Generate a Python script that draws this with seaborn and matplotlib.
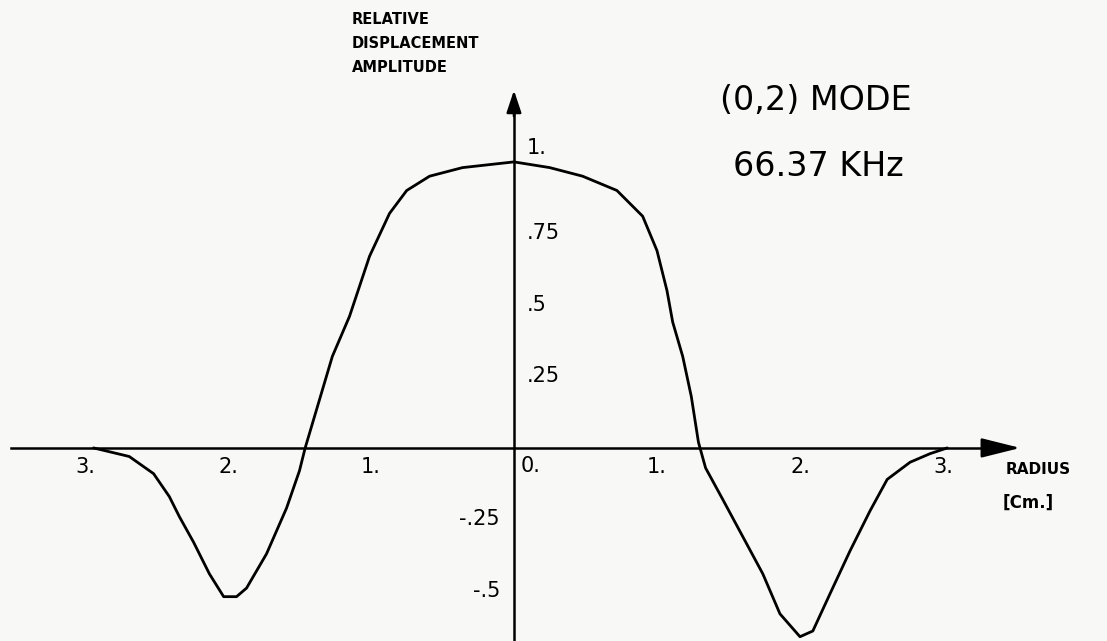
import matplotlib
matplotlib.use("Agg")
import matplotlib.pyplot as plt
import seaborn as sns
import pandas as pd

"""(0,2) mode of the plate: relative displacement amplitude versus radius"""
# values (left half = negative side of the axis)

radius = [-2.94, -2.69, -2.52, -2.41, -2.34, -2.24, -2.13, -2.03, -1.94, -1.87,
          -1.73, -1.59, -1.50, -1.46, -1.27, -1.15, -1.01, -0.87, -0.75, -0.59,
          -0.36, 0.0, 0.25, 0.48, 0.72, 0.90, 1.00, 1.07, 1.11, 1.18,
          1.24, 1.29, 1.34, 1.46, 1.60, 1.74, 1.86, 2.00, 2.09, 2.21,
          2.35, 2.49, 2.61, 2.77, 2.91, 3.03]
amplitude = [0.0, -0.03, -0.09, -0.17, -0.24, -0.33, -0.44, -0.52, -0.52, -0.49,
             -0.37, -0.21, -0.08, 0.0, 0.32, 0.46, 0.67, 0.82, 0.90, 0.95,
             0.98, 1.0, 0.98, 0.95, 0.90, 0.81, 0.69, 0.55, 0.44, 0.32,
             0.18, 0.02, -0.07, -0.18, -0.31, -0.44, -0.58, -0.66, -0.64, -0.51,
             -0.36, -0.22, -0.11, -0.05, -0.02, 0.0]

x_ticks = [-3, -2, -1, 1, 2, 3]
x_tick_labels = ["3.", "2.", "1.", "1.", "2.", "3."]
y_ticks_up = [1.0, 0.75, 0.5, 0.25]
y_labels_up = ["1.", ".75", ".5", ".25"]
y_ticks_down = [-0.25, -0.5]
y_labels_down = ["-.25", "-.5"]

paper = "#f8f8f6"

sns.set_style("white")
plt.rcParams["font.family"] = ["DejaVu Sans"]
plt.rcParams["text.color"] = "black"
plt.rcParams["xtick.color"] = "black"
plt.rcParams["ytick.color"] = "black"

fig = plt.figure(figsize=(11.07, 6.41), dpi=100, facecolor=paper)
ax = fig.add_axes([0, 0, 1, 1])
ax.set_facecolor(paper)

df = pd.DataFrame({"radius": radius, "amplitude": amplitude})
sns.lineplot(data=df, x="radius", y="amplitude", color="black", lw=2.0,
             estimator=None, ax=ax, solid_joinstyle="round", solid_capstyle="round")

ax.set_xlim(-3.594, 4.147)
ax.set_ylim(-0.675, 1.566)
ax.set_xlabel("")
ax.set_ylabel("")

# axes crossing at the origin, like the drawing
for s in ["top", "right"]:
    ax.spines[s].set_visible(False)
ax.spines["left"].set_position(("data", 0))
ax.spines["bottom"].set_position(("data", 0))
ax.spines["bottom"].set_bounds(-3.52, 3.45)
ax.spines["left"].set_bounds(-0.675, 1.22)
for s in ["left", "bottom"]:
    ax.spines[s].set_linewidth(1.8)
    ax.spines[s].set_color("black")

# arrow heads
ax.annotate("", xy=(3.56, 0), xytext=(3.3, 0),
            arrowprops=dict(arrowstyle="-|>,head_length=1.6,head_width=0.4",
                            color="black", lw=1.8, mutation_scale=15))
ax.annotate("", xy=(0, 1.26), xytext=(0, 1.15),
            arrowprops=dict(arrowstyle="-|>,head_length=0.9,head_width=0.3",
                            color="black", lw=1.8, mutation_scale=15))

ax.set_xticks(x_ticks)
ax.set_xticklabels(x_tick_labels, fontsize=15)
ax.tick_params(axis="x", direction="inout", length=9, width=1.5, pad=2)
ax.set_yticks(y_ticks_up + y_ticks_down)
ax.set_yticklabels([])
ax.tick_params(axis="y", direction="inout", length=10, width=2)

for y, lbl in zip(y_ticks_up, y_labels_up):
    if y == 1.0:
        ax.annotate(lbl, xy=(0, y), xytext=(9, 3), textcoords="offset points",
                    ha="left", va="bottom", fontsize=15)
    else:
        ax.annotate(lbl, xy=(0, y), xytext=(9, 0), textcoords="offset points",
                    ha="left", va="center", fontsize=15)
for y, lbl in zip(y_ticks_down, y_labels_down):
    ax.annotate(lbl, xy=(0, y), xytext=(-10, 0), textcoords="offset points",
                ha="right", va="center", fontsize=15)
ax.annotate("0.", xy=(0, 0), xytext=(5, -6), textcoords="offset points",
            ha="left", va="top", fontsize=15)

# axis titles and the mode note
ax.text(0.318, 0.981, "RELATIVE\nDISPLACEMENT\nAMPLITUDE", transform=ax.transAxes,
        ha="left", va="top", fontsize=10.5, fontweight="bold", linespacing=1.75)
ax.text(0.908, 0.267, "RADIUS", transform=ax.transAxes,
        ha="left", va="center", fontsize=11, fontweight="bold")
ax.text(0.906, 0.215, "[Cm.]", transform=ax.transAxes,
        ha="left", va="center", fontsize=12, fontweight="bold")
ax.text(0.650, 0.843, "(0,2) MODE", transform=ax.transAxes,
        ha="left", va="center", fontsize=24)
ax.text(0.662, 0.740, "66.37 KHz", transform=ax.transAxes,
        ha="left", va="center", fontsize=24)

plt.savefig("out.png", dpi=100, facecolor=paper)
